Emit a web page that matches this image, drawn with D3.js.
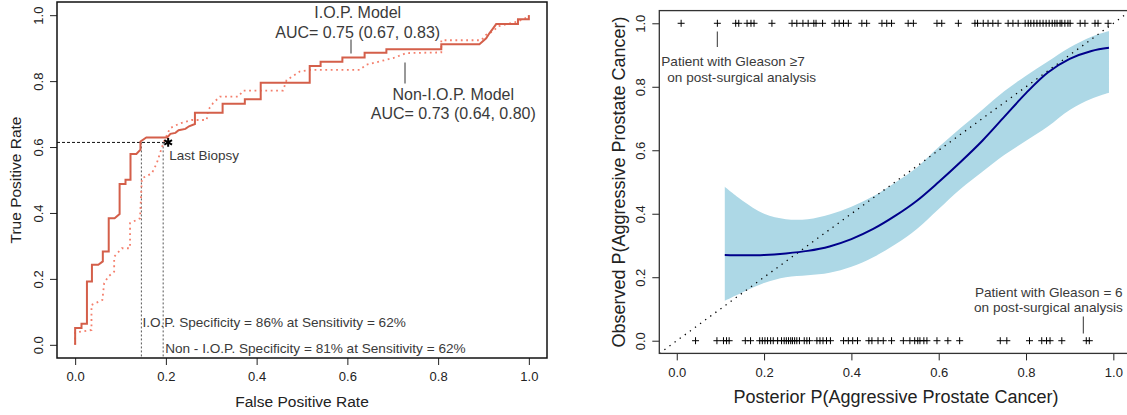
<!DOCTYPE html>
<html>
<head>
<meta charset="utf-8">
<script src="https://cdn.jsdelivr.net/npm/d3@7"></script>
<style>
body { margin: 0; background: #fff; }
svg { display: block; font-family: "Liberation Sans", Arial, Helvetica, sans-serif; }
</style>
</head>
<body>
<svg id="chart" width="1127" height="415"></svg>
<script>
// ROC curves (left panel)
const iopFpr = [0, 0, 0.014, 0.014, 0.026, 0.026, 0.037, 0.037, 0.051, 0.061, 0.061, 0.074, 0.074, 0.087, 0.098, 0.098, 0.111, 0.111, 0.122, 0.122, 0.135, 0.144, 0.144, 0.157, 0.203, 0.210, 0.221, 0.228, 0.243, 0.251, 0.264, 0.264, 0.325, 0.325, 0.374, 0.374, 0.409, 0.409, 0.517, 0.517, 0.541, 0.541, 0.589, 0.589, 0.638, 0.638, 0.686, 0.686, 0.807, 0.807, 0.891, 0.906, 0.913, 0.920, 0.928, 0.976, 0.976, 1.0, 1.0];
const iopTpr = [0, 0.051, 0.051, 0.064, 0.064, 0.192, 0.192, 0.243, 0.243, 0.253, 0.283, 0.283, 0.384, 0.384, 0.397, 0.488, 0.488, 0.501, 0.501, 0.579, 0.579, 0.592, 0.617, 0.629, 0.629, 0.640, 0.643, 0.651, 0.655, 0.663, 0.670, 0.704, 0.704, 0.731, 0.731, 0.745, 0.745, 0.795, 0.795, 0.846, 0.846, 0.859, 0.859, 0.872, 0.872, 0.886, 0.886, 0.897, 0.897, 0.912, 0.912, 0.930, 0.945, 0.958, 0.973, 0.973, 0.988, 0.988, 1.0];

const nonIopFpr = [0, 0, 0.036, 0.036, 0.060, 0.064, 0.073, 0.086, 0.086, 0.103, 0.121, 0.121, 0.143, 0.147, 0.169, 0.180, 0.194, 0.209, 0.231, 0.257, 0.290, 0.293, 0.304, 0.319, 0.360, 0.370, 0.458, 0.466, 0.495, 0.517, 0.627, 0.642, 0.672, 0.701, 0.730, 0.807, 0.807, 0.895, 0.906, 0.921, 0.932, 0.976, 1.0, 1.0];
const nonIopTpr = [0, 0.037, 0.045, 0.121, 0.136, 0.187, 0.207, 0.222, 0.267, 0.293, 0.293, 0.369, 0.384, 0.505, 0.520, 0.551, 0.611, 0.657, 0.672, 0.682, 0.682, 0.712, 0.733, 0.753, 0.753, 0.771, 0.771, 0.803, 0.829, 0.834, 0.834, 0.850, 0.860, 0.870, 0.885, 0.887, 0.924, 0.924, 0.941, 0.951, 0.966, 0.981, 0.996, 1.0];

const lastBiopsy = { fpr: 0.205, tpr: 0.614 };
const specCutFpr = [0.146, 0.194];
const rocTicks = [0, 0.2, 0.4, 0.6, 0.8, 1.0];

// calibration (right panel)
const calX  = [0.11, 0.15, 0.2, 0.25, 0.3, 0.35, 0.4, 0.45, 0.5, 0.55, 0.6, 0.65, 0.7, 0.75, 0.8, 0.85, 0.9, 0.95, 0.99];
const calY  = [0.270, 0.269, 0.270, 0.275, 0.283, 0.297, 0.320, 0.352, 0.393, 0.441, 0.500, 0.563, 0.630, 0.705, 0.780, 0.845, 0.888, 0.913, 0.923];
const calHi = [0.485, 0.442, 0.400, 0.383, 0.383, 0.398, 0.422, 0.455, 0.498, 0.546, 0.610, 0.670, 0.728, 0.786, 0.835, 0.880, 0.924, 0.958, 0.976];
const calLo = [0.126, 0.152, 0.182, 0.200, 0.206, 0.214, 0.233, 0.263, 0.303, 0.352, 0.415, 0.478, 0.532, 0.585, 0.630, 0.675, 0.727, 0.762, 0.781];

const aggressiveX = [0.010, 0.093, 0.135, 0.142, 0.161, 0.170, 0.177, 0.218, 0.264, 0.275, 0.289, 0.301, 0.314, 0.319, 0.334, 0.362, 0.372, 0.382, 0.393, 0.424, 0.435, 0.470, 0.481, 0.492, 0.530, 0.542, 0.596, 0.607, 0.645, 0.683, 0.689, 0.702, 0.713, 0.724, 0.736, 0.759, 0.770, 0.782, 0.798, 0.805, 0.811, 0.818, 0.825, 0.832, 0.839, 0.846, 0.853, 0.860, 0.866, 0.871, 0.878, 0.882, 0.889, 0.896, 0.901, 0.924, 0.935, 0.958, 0.965, 0.988];
const nonAggressiveX = [0.043, 0.092, 0.107, 0.114, 0.120, 0.157, 0.169, 0.190, 0.196, 0.202, 0.208, 0.215, 0.221, 0.231, 0.240, 0.246, 0.251, 0.256, 0.261, 0.265, 0.270, 0.275, 0.281, 0.292, 0.298, 0.304, 0.321, 0.328, 0.335, 0.343, 0.352, 0.382, 0.393, 0.403, 0.414, 0.440, 0.447, 0.461, 0.473, 0.492, 0.519, 0.534, 0.545, 0.552, 0.557, 0.566, 0.573, 0.596, 0.621, 0.648, 0.741, 0.756, 0.808, 0.836, 0.847, 0.855, 0.882, 0.938, 0.945];
const calTicks = [0, 0.2, 0.4, 0.6, 0.8, 1.0];

const svg = d3.select("#chart");
const textCol = "#3a3a3a";

function zip(a, b) { return a.map((v, i) => [v, b[i]]); }

function styleAxis(g, rotate, d) {
    g.select(".domain").remove();
    g.attr("font-family", null).attr("font-size", null);
    g.selectAll(".tick line").attr("stroke", "#222");
    g.selectAll(".tick text").attr("fill", "#222").style("font-size", "13px");
    if (rotate) {
        g.selectAll(".tick text")
            .attr("x", 0).attr("y", -d).attr("dy", "0.35em")
            .attr("transform", "rotate(-90)")
            .attr("text-anchor", "middle");
    }
}

// ---------- left panel ----------
const xL = d3.scaleLinear().domain([-0.04, 1.04]).range([57, 547]);
const yL = d3.scaleLinear().domain([-0.04, 1.04]).range([358, 2]);

const left = svg.append("g");

left.append("g")
    .attr("transform", `translate(0,${yL(-0.04)})`)
    .call(d3.axisBottom(xL).tickValues(rocTicks).tickSize(7).tickPadding(7).tickFormat(d3.format(".1f")))
    .call(g => styleAxis(g, false));

left.append("g")
    .attr("transform", `translate(${xL(-0.04)},0)`)
    .call(d3.axisLeft(yL).tickValues(rocTicks).tickSize(7).tickFormat(d3.format(".1f")))
    .call(g => styleAxis(g, true, 18.7));

// reference lines
left.append("line")
    .attr("x1", xL(-0.04)).attr("x2", xL(lastBiopsy.fpr))
    .attr("y1", yL(lastBiopsy.tpr)).attr("y2", yL(lastBiopsy.tpr))
    .attr("stroke", "#111").attr("stroke-width", 1).attr("stroke-dasharray", "3,2");

left.selectAll(".vcut")
    .data(specCutFpr)
    .enter().append("line")
    .attr("class", "vcut")
    .attr("x1", d => xL(d)).attr("x2", d => xL(d))
    .attr("y1", yL(lastBiopsy.tpr)).attr("y2", yL(-0.04))
    .attr("stroke", "#555").attr("stroke-width", 1).attr("stroke-dasharray", "2,2");

const rocLine = d3.line().x(d => xL(d[0])).y(d => yL(d[1]));

left.append("path")
    .datum(zip(nonIopFpr, nonIopTpr))
    .attr("d", rocLine)
    .attr("fill", "none")
    .attr("stroke", "#f47f6c")
    .attr("stroke-width", 1.8)
    .attr("stroke-dasharray", "1.8,3.6");

left.append("path")
    .datum(zip(iopFpr, iopTpr))
    .attr("d", rocLine)
    .attr("fill", "none")
    .attr("stroke", "#d45f4a")
    .attr("stroke-width", 2);

left.append("path")
    .attr("d", d3.symbol(d3.symbolAsterisk, 55)())
    .attr("transform", `translate(${xL(lastBiopsy.fpr)},${yL(lastBiopsy.tpr)})`)
    .attr("fill", "none").attr("stroke", "#000").attr("stroke-width", 2);

left.append("rect")
    .attr("x", xL(-0.04)).attr("y", yL(1.04))
    .attr("width", xL(1.04) - xL(-0.04)).attr("height", yL(-0.04) - yL(1.04))
    .attr("fill", "none").attr("stroke", "#111").attr("stroke-width", 1.5);

// annotations
const annL = left.append("g").attr("fill", textCol);
annL.append("text").attr("x", xL(lastBiopsy.fpr) + 1).attr("y", 160).style("font-size", "13.5px").text("Last Biopsy");
annL.append("text").attr("x", 357.7).attr("y", 18).attr("text-anchor", "middle").style("font-size", "16px").text("I.O.P. Model");
annL.append("text").attr("x", 357.7).attr("y", 37.5).attr("text-anchor", "middle").style("font-size", "16px").text("AUC= 0.75 (0.67, 0.83)");
annL.append("line").attr("x1", 351).attr("x2", 351).attr("y1", 39.5).attr("y2", 53.5).attr("stroke", "#333");
annL.append("text").attr("x", 453.3).attr("y", 100).attr("text-anchor", "middle").style("font-size", "16px").text("Non-I.O.P. Model");
annL.append("text").attr("x", 453.3).attr("y", 119).attr("text-anchor", "middle").style("font-size", "16px").text("AUC= 0.73 (0.64, 0.80)");
annL.append("line").attr("x1", 405).attr("x2", 405).attr("y1", 62.5).attr("y2", 83.5).attr("stroke", "#333");
annL.append("text").attr("x", xL(specCutFpr[0]) + 1).attr("y", 326.5).style("font-size", "13.6px").text("I.O.P. Specificity = 86% at Sensitivity = 62%");
annL.append("text").attr("x", xL(specCutFpr[1]) + 2).attr("y", 353).style("font-size", "13.6px").text("Non - I.O.P. Specificity = 81% at Sensitivity = 62%");

left.append("text").attr("x", 302).attr("y", 407).attr("text-anchor", "middle")
    .attr("fill", "#222").style("font-size", "15.5px").text("False Positive Rate");
left.append("text").attr("transform", "translate(20.5,180) rotate(-90)").attr("text-anchor", "middle")
    .attr("fill", "#222").style("font-size", "15.5px").text("True Positive Rate");

// ---------- right panel ----------
const xR = d3.scaleLinear().domain([-0.04, 1.04]).range([659.3, 1130.8]);
const yR = d3.scaleLinear().domain([-0.04, 1.04]).range([353.4, 10.6]);

const right = svg.append("g");

svg.append("defs").append("clipPath").attr("id", "clipR")
    .append("rect")
    .attr("x", xR(-0.04)).attr("y", yR(1.04))
    .attr("width", xR(1.04) - xR(-0.04)).attr("height", yR(-0.04) - yR(1.04));

right.append("g")
    .attr("transform", `translate(0,${yR(-0.04)})`)
    .call(d3.axisBottom(xR).tickValues(calTicks).tickSize(7).tickPadding(7.7).tickFormat(d3.format(".1f")))
    .call(g => styleAxis(g, false));

right.append("g")
    .attr("transform", `translate(${xR(-0.04)},0)`)
    .call(d3.axisLeft(yR).tickValues(calTicks).tickSize(7).tickFormat(d3.format(".1f")))
    .call(g => styleAxis(g, true, 19.3));

const plotR = right.append("g").attr("clip-path", "url(#clipR)");

const calData = calX.map((x, i) => ({ x: x, y: calY[i], lo: calLo[i], hi: calHi[i] }));

plotR.append("path")
    .datum(calData)
    .attr("d", d3.area().x(d => xR(d.x)).y0(d => yR(d.lo)).y1(d => yR(d.hi)).curve(d3.curveCatmullRom))
    .attr("fill", "#add8e6");

plotR.append("line")
    .attr("x1", xR(-0.04)).attr("y1", yR(-0.04))
    .attr("x2", xR(1.04)).attr("y2", yR(1.04))
    .attr("stroke", "#000").attr("stroke-width", 1.3).attr("stroke-dasharray", "1.3,5");

plotR.append("path")
    .datum(calData)
    .attr("d", d3.line().x(d => xR(d.x)).y(d => yR(d.y)).curve(d3.curveCatmullRom))
    .attr("fill", "none").attr("stroke", "#00008b").attr("stroke-width", 2);

const plus = "M-3.5,0H3.5M0,-3.5V3.5";
plotR.selectAll(".agg")
    .data(aggressiveX)
    .enter().append("path")
    .attr("class", "agg")
    .attr("d", plus)
    .attr("transform", d => `translate(${xR(d)},${yR(1)})`)
    .attr("stroke", "#000").attr("stroke-width", 1);

plotR.selectAll(".nonagg")
    .data(nonAggressiveX)
    .enter().append("path")
    .attr("class", "nonagg")
    .attr("d", plus)
    .attr("transform", d => `translate(${xR(d)},${yR(0)})`)
    .attr("stroke", "#000").attr("stroke-width", 1);

right.append("rect")
    .attr("x", xR(-0.04)).attr("y", yR(1.04))
    .attr("width", xR(1.04) - xR(-0.04)).attr("height", yR(-0.04) - yR(1.04))
    .attr("fill", "none").attr("stroke", "#333").attr("stroke-width", 1.3);

const annR = right.append("g").attr("fill", textCol).style("font-size", "13.6px");
annR.append("line").attr("x1", 717.3).attr("x2", 717.3).attr("y1", 31.5).attr("y2", 47).attr("stroke", "#333");
annR.append("text").attr("x", 733).attr("y", 66).attr("text-anchor", "middle").text("Patient with Gleason \u22657");
annR.append("text").attr("x", 741.7).attr("y", 81.5).attr("text-anchor", "middle").text("on post-surgical analysis");
annR.append("text").attr("x", 1048.8).attr("y", 296.5).attr("text-anchor", "middle").text("Patient with Gleason = 6");
annR.append("text").attr("x", 1048.5).attr("y", 312).attr("text-anchor", "middle").text("on post-surgical analysis");
annR.append("line").attr("x1", 1083.3).attr("x2", 1083.3).attr("y1", 316.5).attr("y2", 333.5).attr("stroke", "#333");

right.append("text").attr("x", 896).attr("y", 403).attr("text-anchor", "middle")
    .attr("fill", "#222").style("font-size", "18px").text("Posterior P(Aggressive Prostate Cancer)");
right.append("text").attr("transform", "translate(624.5,182) rotate(-90)").attr("text-anchor", "middle")
    .attr("fill", "#222").style("font-size", "18px").text("Observed P(Aggressive Prostate Cancer)");
</script>
</body>
</html>
